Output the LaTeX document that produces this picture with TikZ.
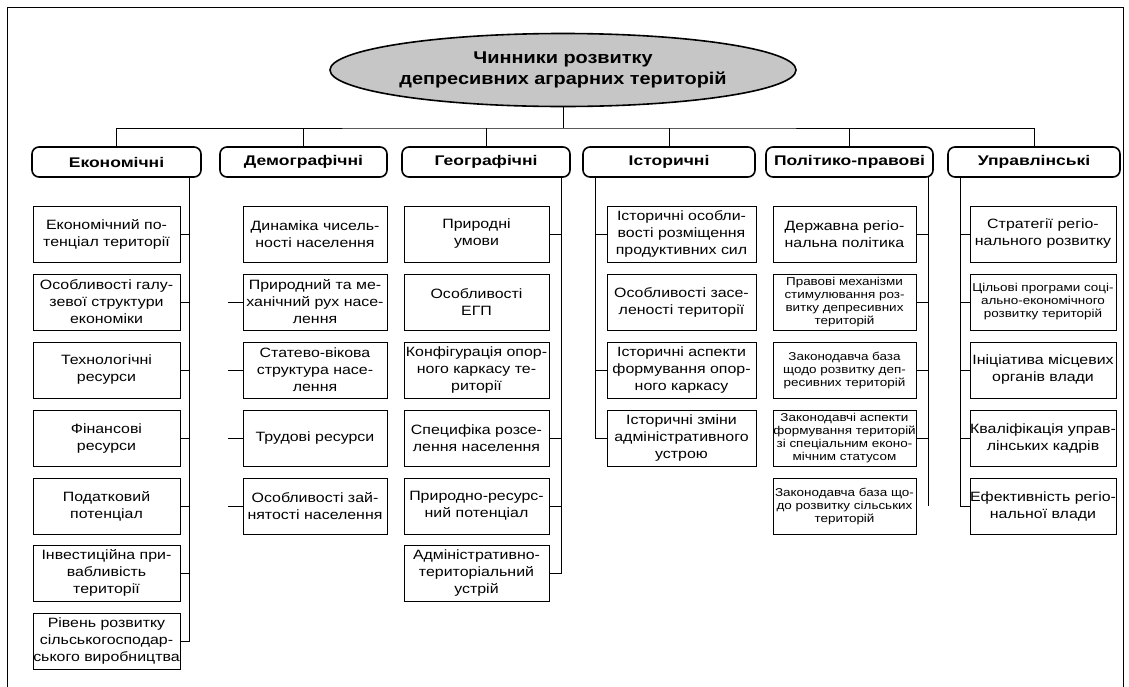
\documentclass[tikz,border=0pt]{standalone}
\usepackage{fontspec}
\setmainfont{Liberation Sans}
\newfontfamily\diagfont[FakeStretch=1.18]{Liberation Sans}
\newfontfamily\headfont[FakeStretch=1.25]{Liberation Sans}
\newfontfamily\titlefont[FakeStretch=1.17]{Liberation Sans}
\usetikzlibrary{shapes.geometric}

\begin{document}
\begin{tikzpicture}[x=1pt,y=-1pt,
  title/.style={draw, ellipse, fill=gray!45, line width=1.6pt, minimum width=466, minimum height=73, inner sep=0pt, align=center, font=\titlefont\bfseries\fontsize{17}{21}\selectfont},
  head/.style={draw, rounded corners=7pt, line width=1.6pt, minimum height=30, inner sep=0pt, font=\headfont\bfseries\fontsize{14}{16}\selectfont},
  item/.style={draw, line width=1pt, minimum height=56, inner sep=0pt, align=center, font=\diagfont\fontsize{13.5}{17}\selectfont},
  small/.style={font=\diagfont\fontsize{11.4}{13}\selectfont},
  link/.style={line width=1pt}]
\useasboundingbox (0,0) rectangle (1129,686);
\draw[link] (7,690) -- (7,7) -- (1123,7) -- (1123,690);

\node[title] (t) at (563,70) {Чинники розвитку\\депресивних аграрних територій};
\coordinate (bus) at (563,128);

\node[head, minimum width=169] (eh) at (116.5,162) {Економічні};
\node[head, minimum width=167] (dh) at (303.5,162) {Демографічні};
\node[head, minimum width=168] (gh) at (486,162) {Географічні};
\node[head, minimum width=172] (hh) at (669,162) {Історичні};
\node[head, minimum width=167] (ph) at (849.5,162) {Політико-правові};
\node[head, minimum width=172] (mh) at (1034,162) {Управлінські};

\draw[link] (t.south) -- (bus);
\draw[link] (eh.north) |- (bus) -| (mh.north);
\draw[link] (dh.north) -- (dh.north |- bus);
\draw[link] (gh.north) -- (gh.north |- bus);
\draw[link] (hh.north) -- (hh.north |- bus);
\draw[link] (ph.north) -- (ph.north |- bus);

% економічні
\node[item, minimum width=147] (e1) at (106.5,234) {Економічний по-\\тенціал території};
\node[item, minimum width=147] (e2) at (106.5,302) {Особливості галу-\\зевої структури\\економіки};
\node[item, minimum width=147] (e3) at (106.5,370) {Технологічні\\ресурси};
\node[item, minimum width=147] (e4) at (106.5,438) {Фінансові\\ресурси};
\node[item, minimum width=147] (e5) at (106.5,506) {Податковий\\потенціал};
\node[item, minimum width=147] (e6) at (106.5,573) {Інвестиційна при-\\вабливість\\території};
\node[item, minimum width=147] (e7) at (106.5,641) {Рівень розвитку\\сільськогосподар-\\ського виробництва};
\coordinate (es) at (189,177);
\draw[link] (es) |- (e7.east);
\draw[link] (es |- e1.east) -- (e1.east);
\draw[link] (es |- e2.east) -- (e2.east);
\draw[link] (es |- e3.east) -- (e3.east);
\draw[link] (es |- e4.east) -- (e4.east);
\draw[link] (es |- e5.east) -- (e5.east);
\draw[link] (es |- e6.east) -- (e6.east);

% демографічні
\node[item, minimum width=144] (d1) at (315,234) {Динаміка чисель-\\ності населення};
\node[item, minimum width=144] (d2) at (315,302) {Природний та ме-\\ханічний рух насе-\\лення};
\node[item, minimum width=144] (d3) at (315,370) {Статево-вікова\\структура насе-\\лення};
\node[item, minimum width=144] (d4) at (315,438) {Трудові ресурси};
\node[item, minimum width=144] (d5) at (315,506) {Особливості зай-\\нятості населення};
\coordinate (ds) at (228,177);
\draw[link] (ds |- d2.west) -- (d2.west);
\draw[link] (ds |- d3.west) -- (d3.west);
\draw[link] (ds |- d4.west) -- (d4.west);
\draw[link] (ds |- d5.west) -- (d5.west);

% географічні
\node[item, minimum width=145] (g1) at (476.5,234) {Природні\\умови};
\node[item, minimum width=145] (g2) at (476.5,302) {Особливості\\ЕГП};
\node[item, minimum width=145] (g3) at (476.5,370) {Конфігурація опор-\\ного каркасу те-\\риторії};
\node[item, minimum width=145] (g4) at (476.5,438) {Специфіка розсе-\\лення населення};
\node[item, minimum width=145] (g5) at (476.5,506) {Природно-ресурс-\\ний потенціал};
\node[item, minimum width=145] (g6) at (476.5,573) {Адміністративно-\\територіальний\\устрій};
\coordinate (gs) at (561,177);
\draw[link] (gs) |- (g6.east);
\draw[link] (gs |- g1.east) -- (g1.east);
\draw[link] (gs |- g4.east) -- (g4.east);
\draw[link] (gs |- g5.east) -- (g5.east);

% історичні
\node[item, minimum width=149] (h1) at (681.5,234) {Історичні особли-\\вості розміщення\\продуктивних сил};
\node[item, minimum width=149] (h2) at (681.5,302) {Особливості засе-\\леності території};
\node[item, minimum width=149] (h3) at (681.5,370) {Історичні аспекти\\формування опор-\\ного каркасу};
\node[item, minimum width=149] (h4) at (681.5,438) {Історичні зміни\\адміністративного\\устрою};
\coordinate (hs) at (595,177);
\draw[link] (hs) |- (h4.west);
\draw[link] (hs |- h1.west) -- (h1.west);
\draw[link] (hs |- h3.west) -- (h3.west);

% політико-правові
\node[item, minimum width=143] (p1) at (844.5,234) {Державна регіо-\\нальна політика};
\node[item, small, minimum width=143] (p2) at (844.5,302) {Правові механізми\\стимулювання роз-\\витку депресивних\\територій};
\node[item, small, minimum width=143] (p3) at (844.5,370) {Законодавча база\\щодо розвитку деп-\\ресивних територій};
\node[item, small, minimum width=143] (p4) at (844.5,438) {Законодавчі аспекти\\формування територій\\зі спеціальним еконо-\\мічним статусом};
\node[item, small, minimum width=143] (p5) at (844.5,506) {Законодавча база що-\\до розвитку сільських\\територій};
\coordinate (ps) at (928,177);
\draw[link] (ps) -- (ps |- p5.east);
\draw[link] (ps |- p1.east) -- (p1.east);
\draw[link] (ps |- p2.east) -- (p2.east);
\draw[link] (ps |- p3.east) -- (p3.east);
\draw[link] (ps |- p4.east) -- (p4.east);

% управлінські
\node[item, minimum width=146] (m1) at (1043,234) {Стратегії регіо-\\нального розвитку};
\node[item, small, minimum width=146] (m2) at (1043,302) {Цільові програми соці-\\ально-економічного\\розвитку територій};
\node[item, minimum width=146] (m3) at (1043,370) {Ініціатива місцевих\\органів влади};
\node[item, minimum width=146] (m4) at (1043,438) {Кваліфікація управ-\\лінських кадрів};
\node[item, minimum width=146] (m5) at (1043,506) {Ефективність регіо-\\нальної влади};
\coordinate (ms) at (960,177);
\draw[link] (ms) |- (m5.west);
\draw[link] (ms |- m1.west) -- (m1.west);
\draw[link] (ms |- m2.west) -- (m2.west);
\draw[link] (ms |- m3.west) -- (m3.west);
\draw[link] (ms |- m4.west) -- (m4.west);
\end{tikzpicture}
\end{document}
